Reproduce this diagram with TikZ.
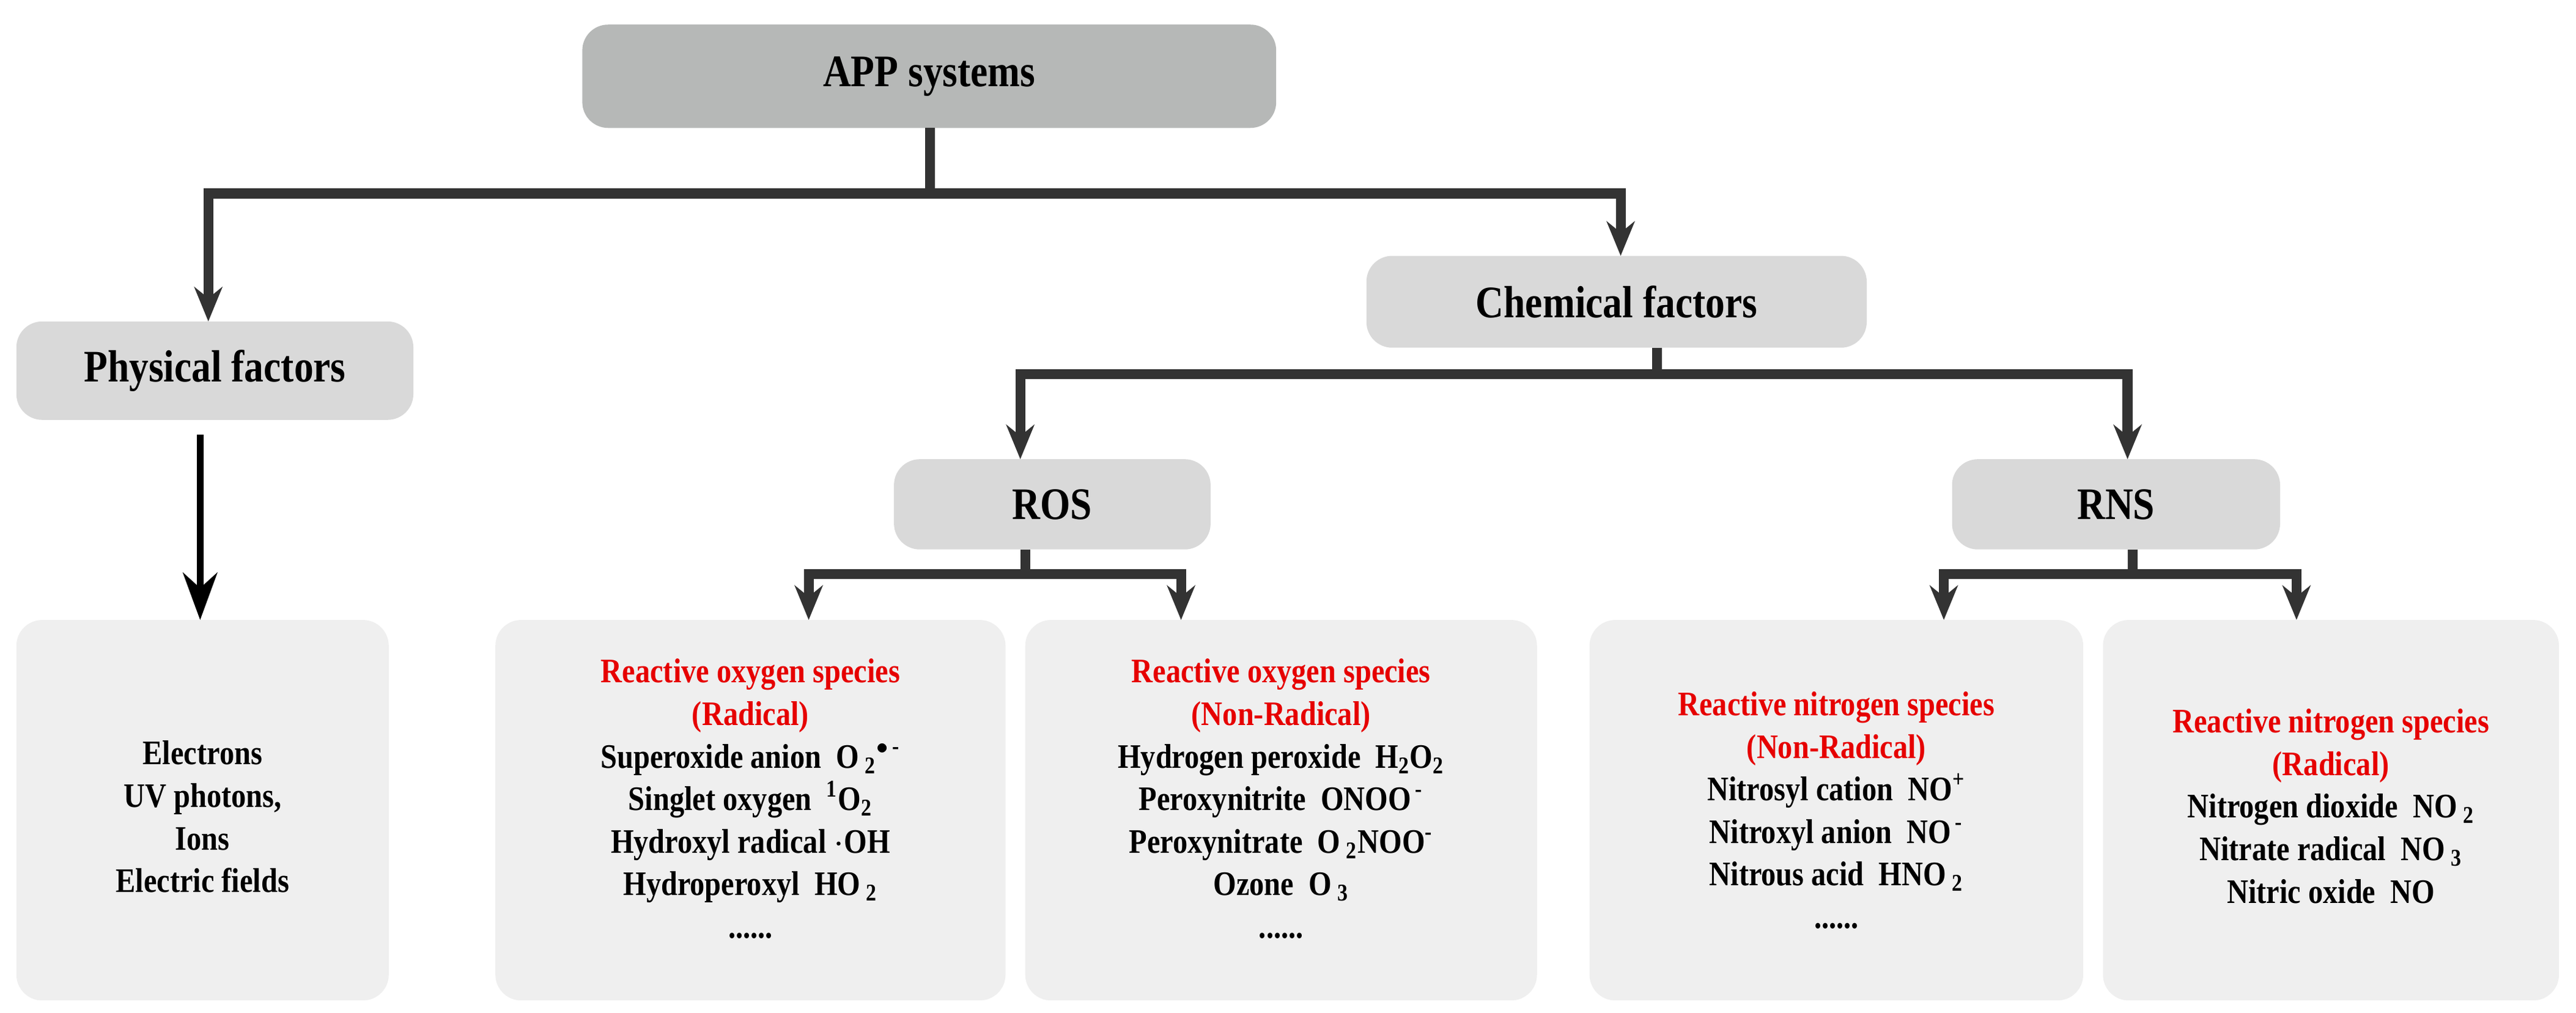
\documentclass[tikz,border=0pt]{standalone}
\usepackage{fontspec}
\setmainfont{Liberation Serif}[FakeStretch=0.86]
\usetikzlibrary{arrows.meta}
\definecolor{dgray}{HTML}{B6B8B7}
\definecolor{mgray}{HTML}{D9D9D9}
\definecolor{lgray}{HTML}{EFEFEF}
\definecolor{ln}{HTML}{333333}
\definecolor{rd}{HTML}{E60000}
\begin{document}
\begin{tikzpicture}[x=0.02683cm,y=-0.02683cm,
  box/.style={draw=none,rounded corners=12pt},
  con/.style={draw=ln,line width=4.6pt},
  arr/.style={con,-{Stealth[length=16pt,width=13pt]}},
  lbl/.style={font=\bfseries\fontsize{21}{24}\selectfont},
  leaf/.style={font=\bfseries\fontsize{16}{19.8}\selectfont,align=center},
  sub/.style={font=\bfseries\fontsize{19}{22}\selectfont}]
\useasboundingbox (0,0) rectangle (1570.4,617.3);
% boxes
\fill[dgray,box] (355,15) rectangle (778,78);
\node[lbl] (app) at (566.5,46.5) {APP systems};
\fill[mgray,box] (10,196) rectangle (252,256);
\node[lbl] (phys) at (131,226) {Physical factors};
\fill[mgray,box] (833,156) rectangle (1138,212);
\node[lbl] (chem) at (985.5,184) {Chemical factors};
\fill[mgray,box] (545,280) rectangle (738,335);
\node[lbl] (ros) at (641.5,307.5) {ROS};
\fill[mgray,box] (1190,280) rectangle (1390,335);
\node[lbl] (rns) at (1290,307.5) {RNS};
\foreach \a/\b in {10/237,302/613,625/937,969/1270,1282/1560}
  \fill[lgray,box] (\a,378) rectangle (\b,610);
% leaf texts
\node[leaf] (l1) at (123.5,498) {Electrons\\UV photons,\\Ions\\Electric fields};
\node[leaf] (l2) at (457.5,487) {\textcolor{rd}{Reactive oxygen species}\\\textcolor{rd}{(Radical)}\\
  Superoxide anion~~O\,\textsubscript{2}\textsuperscript{$\bullet$\,-}\\
  Singlet oxygen~~\textsuperscript{1}O\textsubscript{2}\\
  Hydroxyl radical $\cdot$OH\\Hydroperoxyl~~HO\,\textsubscript{2}\\......};
\node[leaf] (l3) at (781,487) {\textcolor{rd}{Reactive oxygen species}\\\textcolor{rd}{(Non-Radical)}\\
  Hydrogen peroxide~~H\textsubscript{2}O\textsubscript{2}\\
  Peroxynitrite~~ONOO\textsuperscript{\,-}\\
  Peroxynitrate~~O\,\textsubscript{2}NOO\textsuperscript{-}\\
  Ozone~~O\,\textsubscript{3}\\......};
\node[leaf] (l4) at (1119.5,494) {\textcolor{rd}{Reactive nitrogen species}\\\textcolor{rd}{(Non-Radical)}\\
  Nitrosyl cation~~NO\textsuperscript{+}\\
  Nitroxyl anion~~NO\textsuperscript{\,-}\\
  Nitrous acid~~HNO\,\textsubscript{2}\\......};
\node[leaf] (l5) at (1421,491.5) {\textcolor{rd}{Reactive nitrogen species}\\\textcolor{rd}{(Radical)}\\
  Nitrogen dioxide~~NO\,\textsubscript{2}\\
  Nitrate radical~~NO\,\textsubscript{3}\\
  Nitric oxide~~NO};
% connectors
\coordinate (b1) at (567,118);
\draw[con] (567,78) -- (b1);
\draw[arr] (988,118) -| (127,196);
\draw[arr] (127,118) -| (988,156);
\coordinate (p0) at (122,265);
\draw[black,line width=3pt,-{Stealth[length=22pt,width=16pt]}] (p0) -- (122,378);
\draw[con] (1010,212) -- (1010,228);
\draw[arr] (1297,228) -| (622,280);
\draw[arr] (622,228) -| (1297,280);
\draw[con] (625,335) -- (625,350);
\draw[arr] (720,350) -| (493,378);
\draw[arr] (493,350) -| (720,378);
\draw[con] (1300,335) -- (1300,350);
\draw[arr] (1400,350) -| (1185,378);
\draw[arr] (1185,350) -| (1400,378);
\end{tikzpicture}
\end{document}
